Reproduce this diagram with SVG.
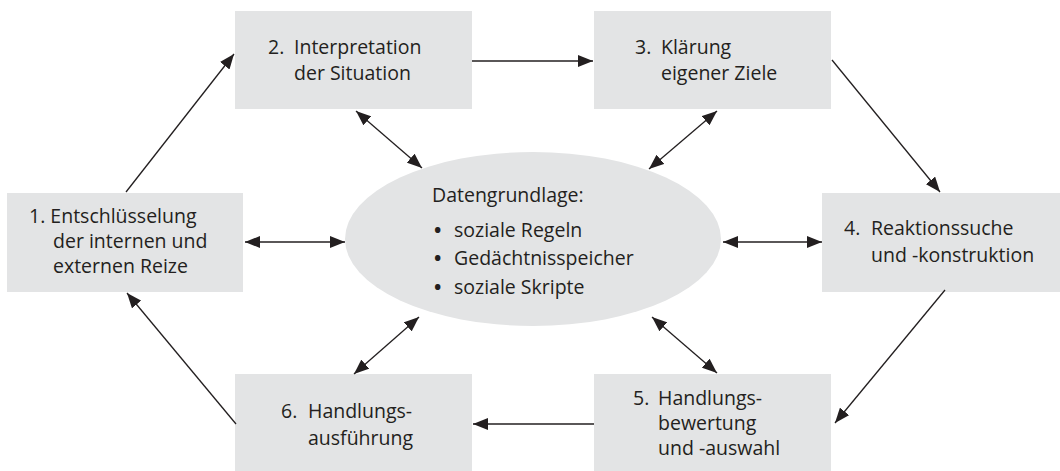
<svg xmlns="http://www.w3.org/2000/svg" width="1060" height="471" viewBox="0 0 1060 471">
  <style>
    .box { fill: #e3e4e5; }
    .hub { fill: #e3e4e5; }
    text { font-family: "Open Sans", "Noto Sans", sans-serif; font-size: 19.5px; fill: #231f20; }
    .dot { font-weight: bold; }
    .conn line { stroke: #231f20; stroke-width: 1.3; fill: none; }
    .one { marker-end: url(#head); }
    .two { marker-start: url(#head); marker-end: url(#head); }
  </style>
  <defs>
    <marker id="head" markerUnits="userSpaceOnUse" markerWidth="16" markerHeight="12" viewBox="0 0 16 12" refX="15" refY="6" orient="auto-start-reverse">
      <path d="M0,0 L15,6 L0,12 Z" fill="#231f20"/>
    </marker>
  </defs>

  <rect width="1060" height="471" fill="#ffffff"/>

  <!-- central data base -->
  <g id="datengrundlage">
    <ellipse class="hub" cx="533" cy="239" rx="188" ry="87"/>
    <text x="432" y="202">Datengrundlage:</text>
    <text class="dot" x="434" y="237">•</text><text x="454" y="237">soziale Regeln</text>
    <text class="dot" x="434" y="265">•</text><text x="454" y="265">Gedächtnisspeicher</text>
    <text class="dot" x="434" y="294">•</text><text x="454" y="294">soziale Skripte</text>
  </g>

  <g id="node1">
    <rect class="box" x="7" y="193" width="236" height="99"/>
    <text x="29" y="223">1. Entschlüsselung</text>
    <text x="53" y="248">der internen und</text>
    <text x="53" y="273">externen Reize</text>
  </g>

  <g id="node2">
    <rect class="box" x="235" y="11" width="237" height="98"/>
    <text x="268" y="54">2.</text><text x="294" y="54">Interpretation</text>
    <text x="294" y="80">der Situation</text>
  </g>

  <g id="node3">
    <rect class="box" x="594" y="11" width="237" height="98"/>
    <text x="635" y="54">3.</text><text x="661" y="54">Klärung</text>
    <text x="661" y="80">eigener Ziele</text>
  </g>

  <g id="node4">
    <rect class="box" x="822" y="193" width="238" height="99"/>
    <text x="844" y="235">4.</text><text x="871" y="235">Reaktionssuche</text>
    <text x="871" y="262">und -konstruktion</text>
  </g>

  <g id="node5">
    <rect class="box" x="594" y="374" width="237" height="97"/>
    <text x="633" y="405">5.</text><text x="658" y="405">Handlungs-</text>
    <text x="658" y="430">bewertung</text>
    <text x="658" y="455">und -auswahl</text>
  </g>

  <g id="node6">
    <rect class="box" x="235" y="374" width="237" height="97"/>
    <text x="281" y="418">6.</text><text x="308" y="418">Handlungs-</text>
    <text x="308" y="445">ausführung</text>
  </g>

  <g id="connectors" class="conn">
    <!-- cycle -->
    <line class="one" x1="126" y1="192" x2="234" y2="54"/>
    <line class="one" x1="472" y1="61" x2="593" y2="61"/>
    <line class="one" x1="832" y1="60" x2="940" y2="192"/>
    <line class="one" x1="945" y1="290" x2="835" y2="423"/>
    <line class="one" x1="594" y1="424" x2="473" y2="424"/>
    <line class="one" x1="236" y1="424" x2="127" y2="293"/>
    <!-- exchange with the data base -->
    <line class="two" x1="245" y1="242" x2="345" y2="242"/>
    <line class="two" x1="723" y1="242" x2="822" y2="242"/>
    <line class="two" x1="356" y1="111" x2="422" y2="168"/>
    <line class="two" x1="717" y1="111" x2="649" y2="169"/>
    <line class="two" x1="652" y1="317" x2="717" y2="373"/>
    <line class="two" x1="419" y1="317" x2="354" y2="374"/>
  </g>
</svg>
